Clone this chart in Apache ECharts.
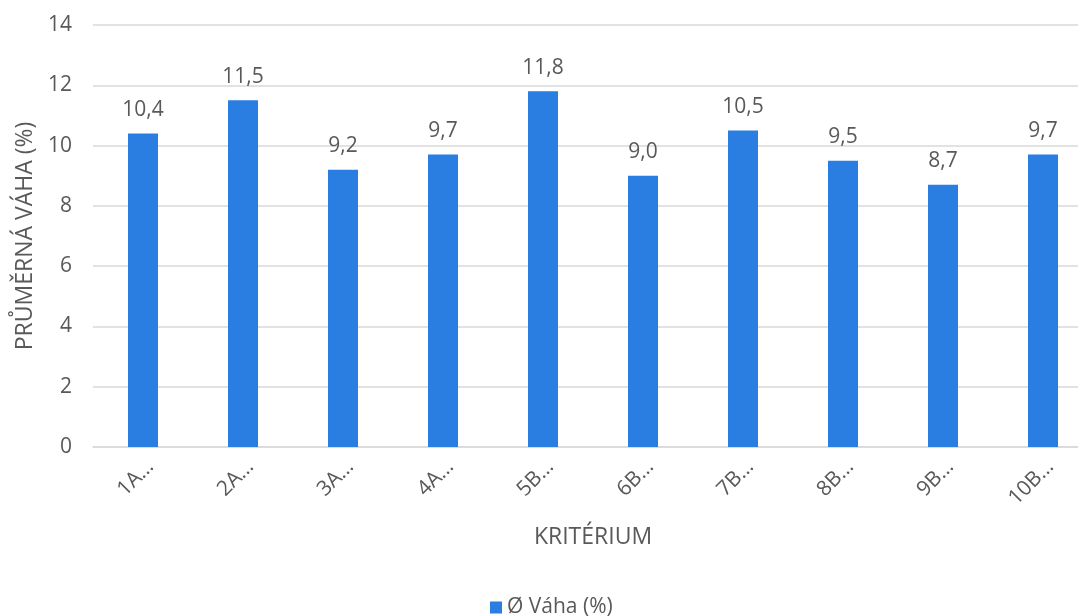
<!DOCTYPE html>
<html><head><meta charset="utf-8">
<script src="https://cdn.jsdelivr.net/npm/echarts@6/dist/echarts.min.js"></script>
<style>html,body{margin:0;padding:0;background:#fff}#c{width:1078px;height:616px}</style>
</head><body><div id="c"></div>
<script>
const categories = ['1A…','2A…','3A…','4A…','5B…','6B…','7B…','8B…','9B…','10B…'];
const values = [10.4, 11.5, 9.2, 9.7, 11.8, 9.0, 10.5, 9.5, 8.7, 9.7];
const seriesName = 'Ø Váha (%)';
const yName = 'PRŮMĚRNÁ VÁHA (%)';
const xName = 'KRITÉRIUM';
const font = '"Open Sans", "Noto Sans", sans-serif';
const txt = '#595959';
const chart = echarts.init(document.getElementById('c'));
chart.setOption({
  animation: false,
  textStyle: {fontFamily: font},
  grid: {left: 93, top: 25, width: 1000, height: 422, containLabel: false, outerBoundsMode: 'none'},
  legend: {
    data: [seriesName], left: 485, top: 592,
    icon: 'rect', itemWidth: 12, itemHeight: 12, itemGap: 5,
    textStyle: {fontFamily: font, fontSize: 21, color: txt}
  },
  xAxis: {
    type: 'category', data: categories,
    name: xName, nameLocation: 'middle', nameGap: 79,
    nameTextStyle: {fontFamily: font, fontSize: 23, color: txt},
    axisLine: {show: true, lineStyle: {color: '#d9d9d9', width: 1.5}},
    axisTick: {show: false},
    axisLabel: {rotate: 45, fontFamily: font, fontSize: 21, color: txt, margin: 9, verticalAlign: 'top'}
  },
  yAxis: {
    type: 'value', min: 0, max: 14, interval: 2,
    name: yName, nameLocation: 'middle', nameGap: 55, nameRotate: 90,
    nameTextStyle: {fontFamily: font, fontSize: 23, color: txt},
    axisLine: {show: false}, axisTick: {show: false},
    axisLabel: {fontFamily: font, fontSize: 21, color: txt, margin: 21},
    splitLine: {lineStyle: {color: '#d9d9d9', width: 1.5}}
  },
  series: [{
    name: seriesName, type: 'bar', data: values, barWidth: 30,
    itemStyle: {color: '#2a7de1'},
    label: {
      show: true, position: 'top', distance: 13,
      fontFamily: font, fontSize: 21, color: txt,
      formatter: p => p.value.toFixed(1).replace('.', ',')
    }
  }]
});
</script></body></html>
